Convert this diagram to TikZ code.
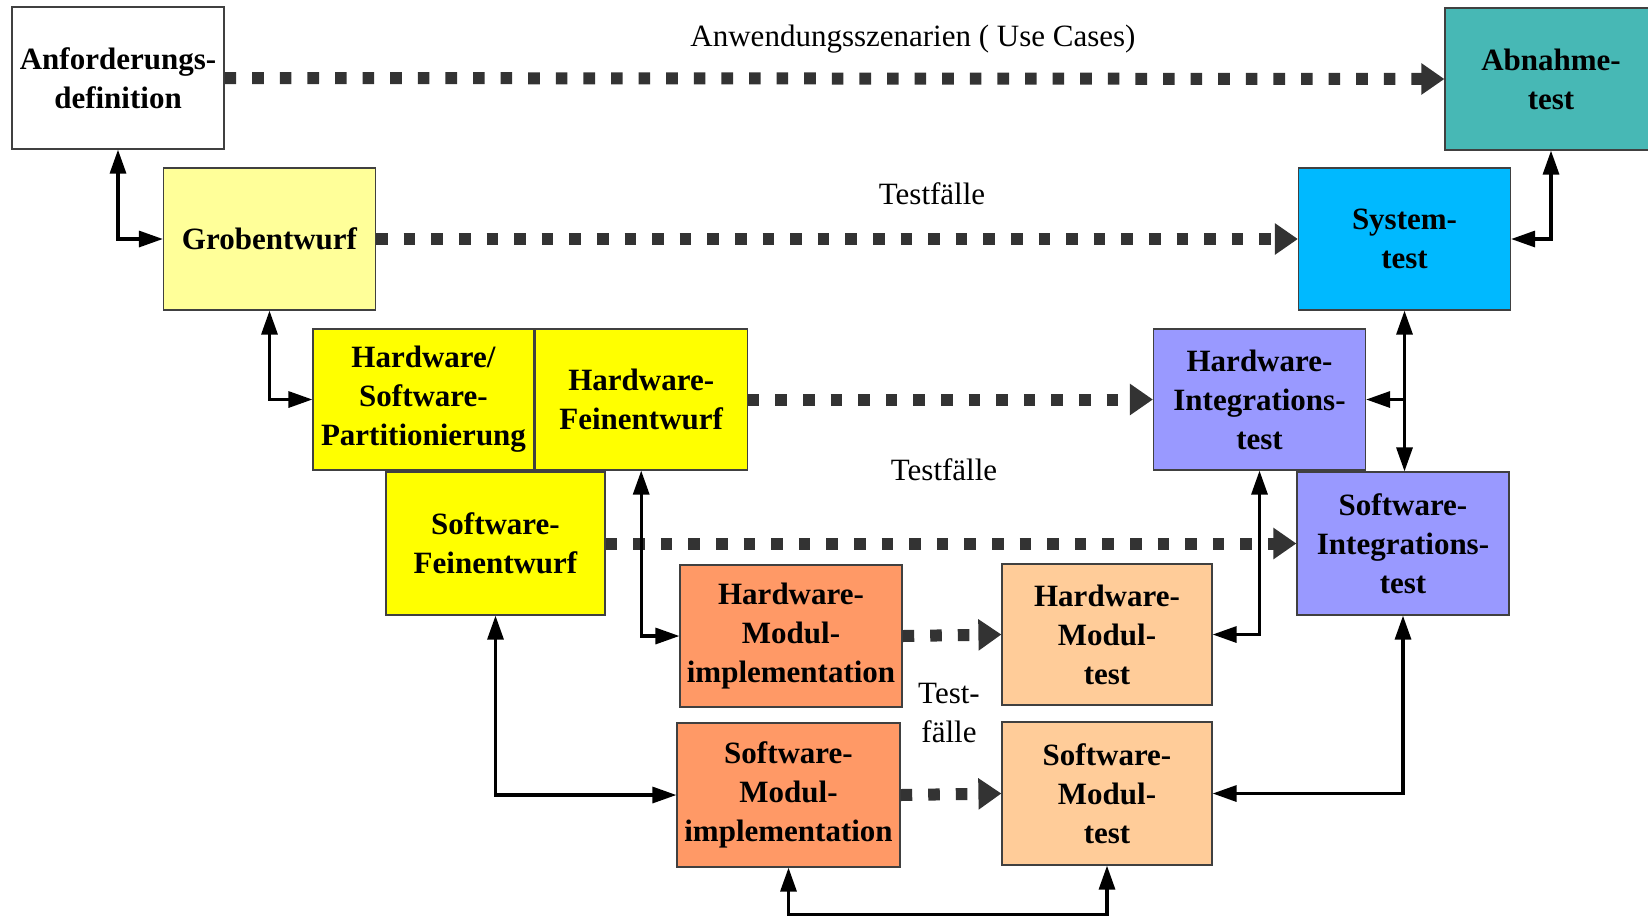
\documentclass[tikz,border=0pt]{standalone}
\usepackage{fontspec}
\setmainfont{Liberation Serif}
\usepackage{tikz}
\usetikzlibrary{positioning,arrows.meta}
\definecolor{framegray}{HTML}{404040}
\definecolor{dotgray}{HTML}{333333}
\definecolor{paleyellow}{HTML}{FFFF99}
\definecolor{fullyellow}{HTML}{FFFF00}
\definecolor{abnteal}{HTML}{47B8B5}
\definecolor{sysblue}{HTML}{00B9FF}
\definecolor{intviolet}{HTML}{9999FF}
\definecolor{implorange}{HTML}{FF9966}
\definecolor{testpeach}{HTML}{FFCC99}
\tikzset{
	phase/.style={
		draw=framegray,
		line width=0.6pt,
		inner sep=0pt,
		align=center,
		font=\fontsize{15.5}{19.5}\selectfont\bfseries,
		minimum width=106pt,
		minimum height=71pt
	},
	caselabel/.style={align=center, font=\fontsize{15.5}{19.5}\selectfont},
	testflow/.style={draw=dotgray, line width=6pt, dash pattern=on 5.8pt off 8pt, -{Triangle[length=11.5pt,width=15pt]}},
	link/.style={line width=1.6pt, {Triangle[length=12pt,width=8pt]}-{Triangle[length=12pt,width=8pt]}},
	branch/.style={line width=1.6pt, -{Triangle[length=12pt,width=8pt]}}
}

\begin{document}
\begin{tikzpicture}[x=0.5pt, y=-0.5pt]
			\useasboundingbox (0,0) rectangle (1648,918);
			% linker Ast
			\node [phase, fill=white] (anf) at (118,78) {Anforderungs-\\definition};
			\node [phase, fill=paleyellow] (grob) at (269.5,239) {Grobentwurf};
			\node [phase, fill=fullyellow, minimum width=110.5pt, minimum height=70.5pt] (part) at (423.5,399.5) {Hardware/\\Software-\\Partitionierung};
			\node [phase, fill=fullyellow, minimum height=70.5pt, right=0pt of part] (hwfe) {Hardware-\\Feinentwurf};
			\node [phase, fill=fullyellow, minimum width=109.5pt, minimum height=71.5pt] (swfe) at (495.5,543.5) {Software-\\Feinentwurf};
			\node [phase, fill=implorange, minimum width=111pt] (hwmi) at (791,636) {Hardware-\\Modul-\\implementation};
			\node [phase, fill=implorange, minimum width=111.5pt, minimum height=72pt] (swmi) at (788.5,795) {Software-\\Modul-\\implementation};
			% rechter Ast
			\node [phase, fill=abnteal] (abn) at (1551,79) {Abnahme-\\test};
			\node [phase, fill=sysblue] (sys) at (1404.5,239) {System-\\test};
			\node [phase, fill=intviolet, minimum height=70.5pt] (hwint) at (1259.5,399.5) {Hardware-\\Integrations-\\test};
			\node [phase, fill=intviolet, minimum height=71.5pt] (swint) at (1403,543.5) {Software-\\Integrations-\\test};
			\node [phase, fill=testpeach, minimum width=105pt, minimum height=70.5pt] (hwmt) at (1107,634.5) {Hardware-\\Modul-\\test};
			\node [phase, fill=testpeach, minimum width=105pt, minimum height=71.5pt] (swmt) at (1107,793.5) {Software-\\Modul-\\test};
			% Beschriftungen
			\node [caselabel] (uc) at (913,39) {Anwendungsszenarien ( Use Cases)};
			\node [caselabel] (tf1) at (932,194) {Testfälle};
			\node [caselabel] (tf2) at (944,470) {Testfälle};
			\node [caselabel] (tf3) at (949,713) {Test-\\fälle};
			% Testfaelle
			\draw [testflow] (anf.east) -- (abn.west);
			\draw [testflow] (grob.east) -- (sys.west);
			\draw [testflow] (hwfe.east) -- (hwint.west);
			\draw [testflow] (swfe.east) -- (swint.west);
			\draw [testflow] (hwmi.east) -- (hwmt.west);
			\draw [testflow] (swmi.east) -- (swmt.west);
			% Rueckkopplung
			\draw [link] (anf.south) |- (grob.west);
			\draw [link] (grob.south) |- (part.west);
			\draw [link] (hwfe.south) |- (hwmi.west);
			\draw [link] (swfe.south) |- (swmi.west);
			\draw [link] (swmi.south) -- ++(0,47) -| (swmt.south);
			\draw [link] (swmt.east) -| (swint.south);
			\draw [link] (hwmt.east) -| (hwint.south);
			\draw [link] (sys.south) -- (sys.south |- swint.north);
			\draw [branch] (sys.south |- hwint.east) -- (hwint.east);
			\draw [link] (abn.south) |- (sys.east);
		\end{tikzpicture}
\end{document}
